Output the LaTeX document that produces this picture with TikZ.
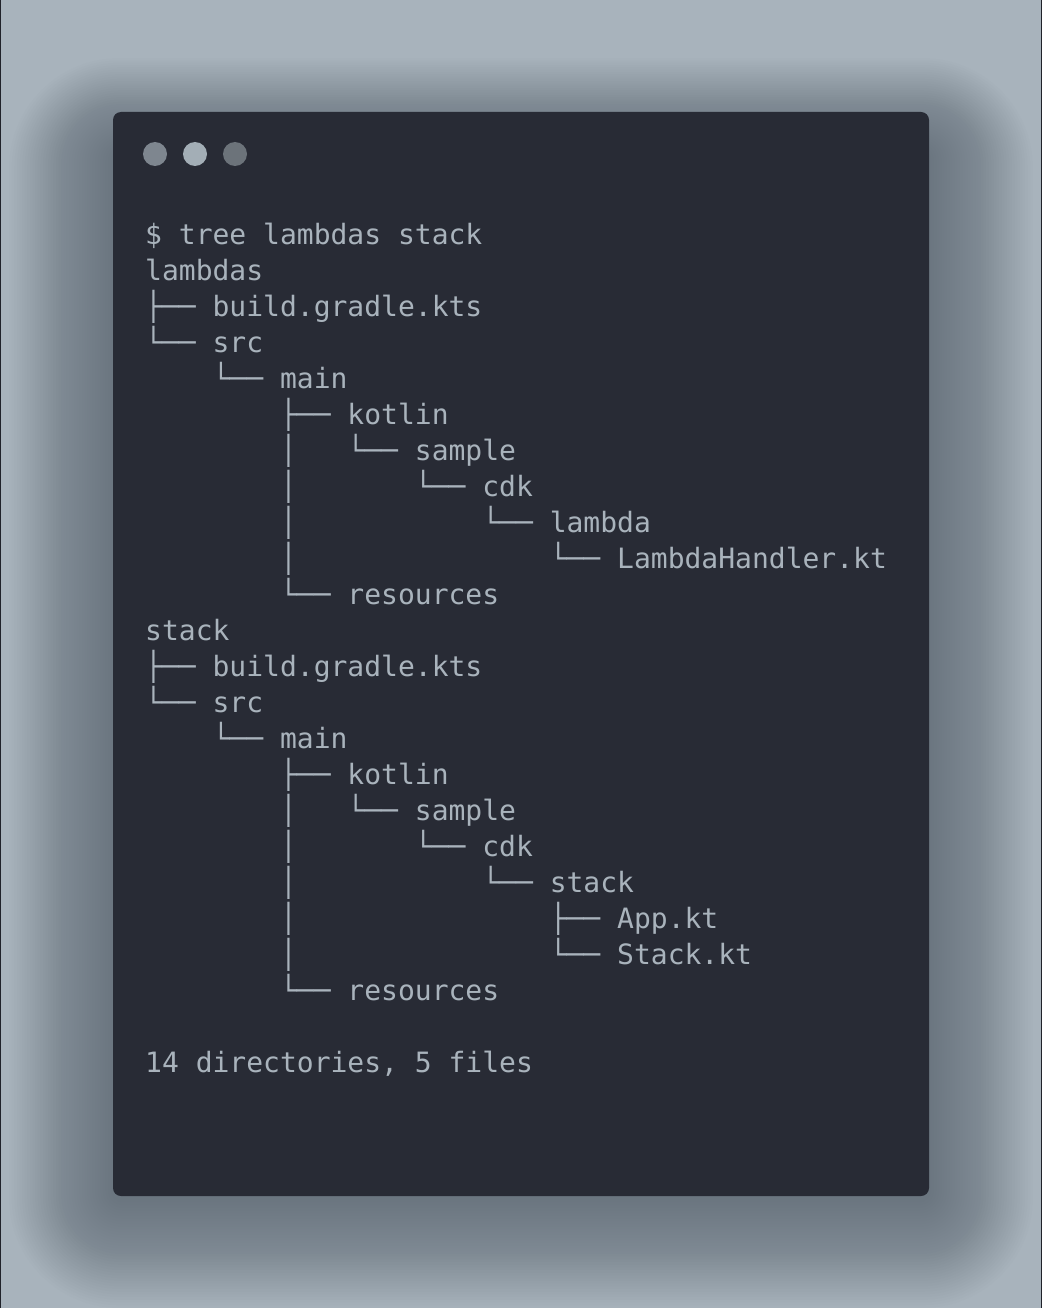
\documentclass[tikz,border=0pt]{standalone}
\usepackage{fontspec}
\newfontfamily\termfont{DejaVu Sans Mono}
\definecolor{bgc}{HTML}{A8B3BC}
\definecolor{winc}{HTML}{282B35}
\definecolor{txtc}{HTML}{A9B3BC}
\definecolor{dotA}{HTML}{7E868F}
\definecolor{dotB}{HTML}{A3AEB6}
\definecolor{dotC}{HTML}{6C737A}
\definecolor{shadc}{HTML}{2A3440}
\tikzset{
  line/.style={anchor=base west, inner sep=0pt, text=txtc, font=\termfont\fontsize{28}{36}\selectfont},
  dot/.style={circle, inner sep=0pt, minimum size=24pt},
}
\begin{document}
\begin{tikzpicture}[x=1pt,y=-1pt]
\useasboundingbox (0,0) rectangle (1042,1308);
\fill[bgc] (0,0) rectangle (1042,1308);
\draw[winc!80!black, line width=1pt] (0.5,0) -- (0.5,1308) (1041.5,0) -- (1041.5,1308);
% soft shadow
\foreach \i in {1,...,40}{
  \fill[shadc, fill opacity=0.011, rounded corners={10+2.5*\i}]
    (113-2.6*\i, 150-2.3*\i) rectangle (929+2.6*\i, 1200+2.7*\i);
}
% window
\fill[winc, rounded corners=8pt] (113,112) rectangle (929,1196);
\node[dot, fill=dotA] (d1) at (155,154) {};
\node[dot, fill=dotB] (d2) at (195,154) {};
\node[dot, fill=dotC] (d3) at (235,154) {};
% text lines
\node[line] (l0)  at (145,244) {\$ tree lambdas stack};
\node[line] (l1)  at (145,280) {lambdas};
\node[line] (l2)  at (145,316) {├── build.gradle.kts};
\node[line] (l3)  at (145,352) {└── src};
\node[line] (l4)  at (145,388) {~~~~└── main};
\node[line] (l5)  at (145,424) {~~~~~~~~├── kotlin};
\node[line] (l6)  at (145,460) {~~~~~~~~│~~~└── sample};
\node[line] (l7)  at (145,496) {~~~~~~~~│~~~~~~~└── cdk};
\node[line] (l8)  at (145,532) {~~~~~~~~│~~~~~~~~~~~└── lambda};
\node[line] (l9)  at (145,568) {~~~~~~~~│~~~~~~~~~~~~~~~└── LambdaHandler.kt};
\node[line] (l10) at (145,604) {~~~~~~~~└── resources};
\node[line] (l11) at (145,640) {stack};
\node[line] (l12) at (145,676) {├── build.gradle.kts};
\node[line] (l13) at (145,712) {└── src};
\node[line] (l14) at (145,748) {~~~~└── main};
\node[line] (l15) at (145,784) {~~~~~~~~├── kotlin};
\node[line] (l16) at (145,820) {~~~~~~~~│~~~└── sample};
\node[line] (l17) at (145,856) {~~~~~~~~│~~~~~~~└── cdk};
\node[line] (l18) at (145,892) {~~~~~~~~│~~~~~~~~~~~└── stack};
\node[line] (l19) at (145,928) {~~~~~~~~│~~~~~~~~~~~~~~~├── App.kt};
\node[line] (l20) at (145,964) {~~~~~~~~│~~~~~~~~~~~~~~~└── Stack.kt};
\node[line] (l21) at (145,1000) {~~~~~~~~└── resources};
\node[line] (l23) at (145,1072) {14 directories, 5 files};
\end{tikzpicture}
\end{document}
